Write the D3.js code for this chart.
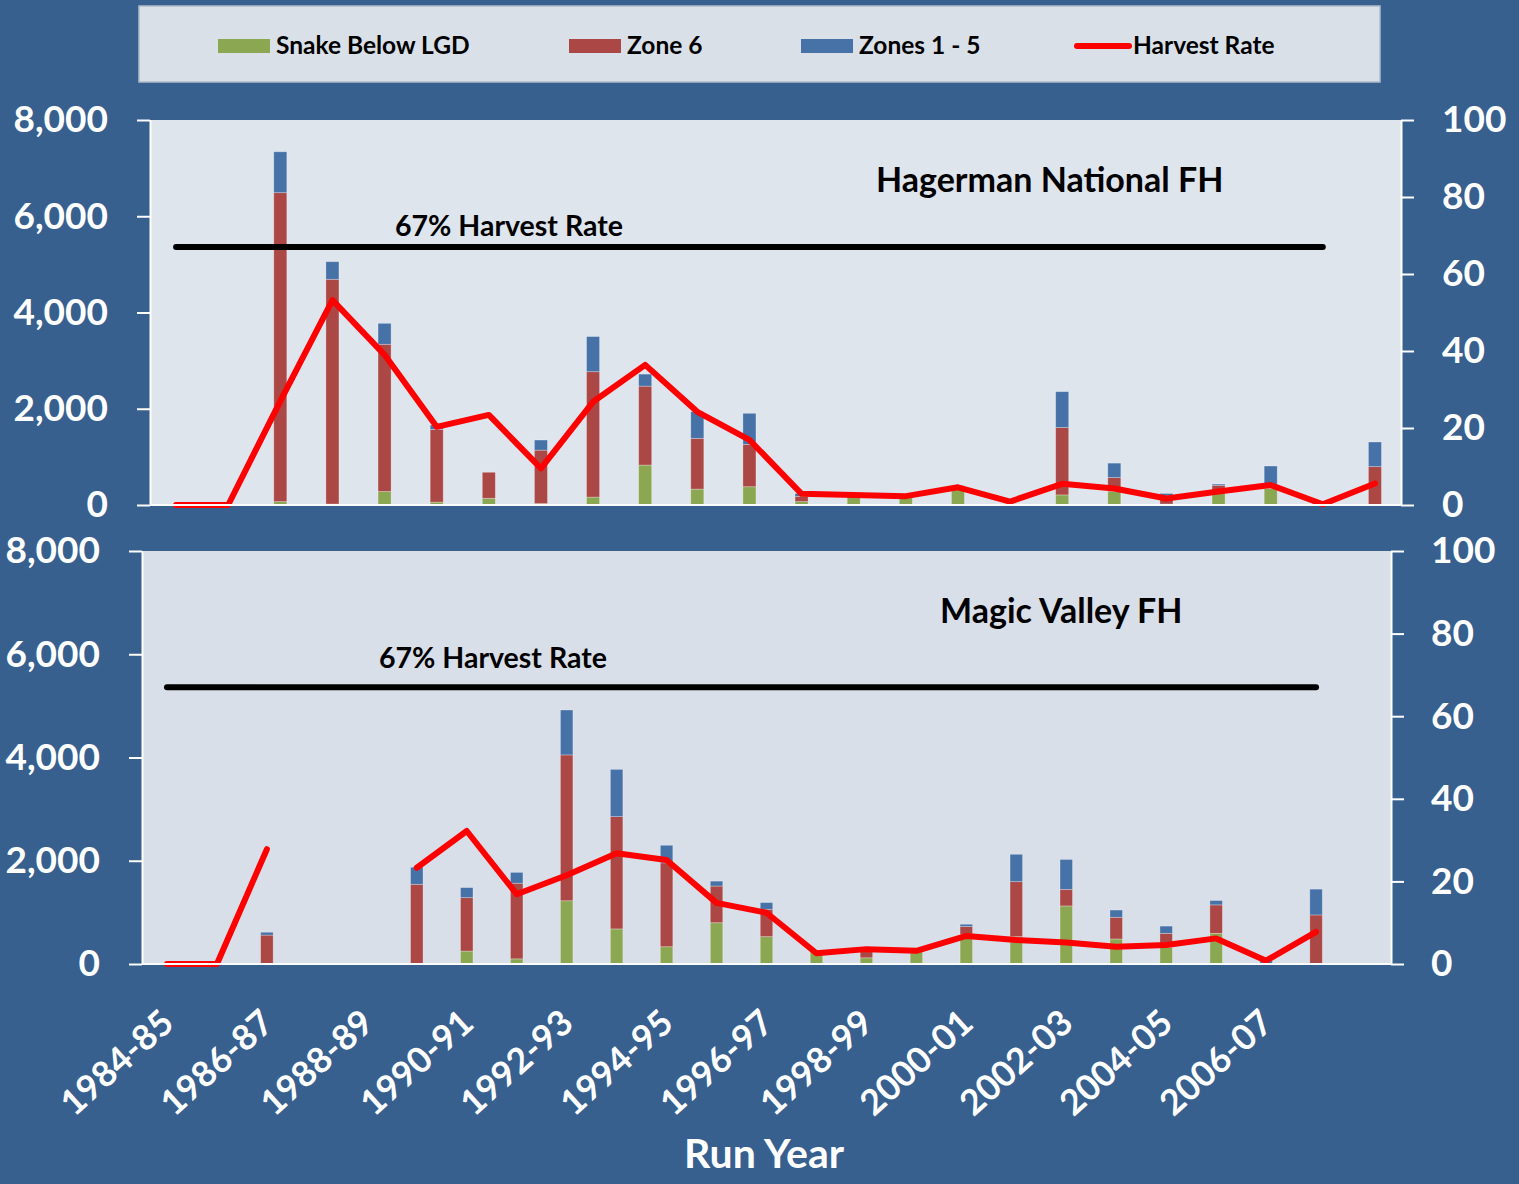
<!DOCTYPE html>
<html>
<head>
<meta charset="utf-8">
<script src="https://cdn.jsdelivr.net/npm/d3@7"></script>
<style>
  html, body { margin: 0; padding: 0; background: #37608F; }
  text { font-family: Lato, "Open Sans", sans-serif; font-weight: bold; }
</style>
</head>
<body>
<script>
// ---------------- DATA ----------------
const runYears = ["1984-85","1985-86","1986-87","1987-88","1988-89","1989-90","1990-91","1991-92",
  "1992-93","1993-94","1994-95","1995-96","1996-97","1997-98","1998-99","1999-00","2000-01",
  "2001-02","2002-03","2003-04","2004-05","2005-06","2006-07","2007-08","2008-09"];
const xTickLabels = ["1984-85","1986-87","1988-89","1990-91","1992-93","1994-95","1996-97",
  "1998-99","2000-01","2002-03","2004-05","2006-07"];
const seriesNames = ["Snake Below LGD","Zone 6","Zones 1 - 5","Harvest Rate"];
const leftTicks = [0, 2000, 4000, 6000, 8000];
const rightTicks = [0, 20, 40, 60, 80, 100];
const targetRate = 67;

// Hagerman National FH (1984-85 .. 2007-08)
const hagSnake   = [0,0,70,20,280,60,140,30,165,830,330,380,70,190,170,370,30,210,280,20,310,345,0,0];
const hagZone6   = [0,0,6420,4670,3060,1510,540,1110,2605,1640,1055,880,110,0,0,0,0,1400,290,170,100,90,0,797];
const hagZones15 = [0,0,850,366,435,90,0,210,730,250,555,645,60,0,0,30,0,745,300,50,25,375,0,512];
const hagHarvest = [0,0,27,53.2,39,20.3,23.4,9.5,26.8,36.4,24.2,16.9,2.9,2.6,2.3,4.6,0.9,5.5,4.3,1.7,3.5,5.2,0.2,5.6];

// Magic Valley FH (1984-85 .. 2008-09)
const mvSnake   = [0,0,0,null,null,0,250,100,1225,680,335,800,530,240,120,250,575,530,1125,485,320,595,0,0,null];
const mvZone6   = [0,0,560,null,null,1544,1035,1465,2825,2175,1625,710,530,0,130,0,150,1065,320,420,274,550,0,950,null];
const mvZones15 = [0,0,55,null,null,330,195,210,870,915,340,95,130,0,0,0,45,530,580,140,140,85,60,500,null];
const mvHarvest = [0,0,27.8,null,null,23.3,32.2,16.9,21.5,26.8,25.2,14.8,12.4,2.6,3.6,3.2,6.8,5.8,5.2,4.2,4.6,6.2,0.8,7.8,null];

// ---------------- STYLE ----------------
const colors = { snake: "#8CA751", zone6: "#AB4745", zones15: "#4672A8", harvest: "#FF0000" };

const W = 1519, H = 1184;
const svg = d3.select("body").append("svg").attr("width", W).attr("height", H);
svg.append("rect").attr("width", W).attr("height", H).attr("fill", "#37608F");

// ---------------- LEGEND ----------------
const lg = svg.append("g");
lg.append("rect").attr("x", 139).attr("y", 6).attr("width", 1241).attr("height", 76)
  .attr("fill", "#D9E0E8").attr("stroke", "#AEBBCC").attr("stroke-width", 1.5);
const legendX = [218, 569, 801, 1075];
const legendKeys = ["snake", "zone6", "zones15", "harvest"];
legendKeys.forEach((k, i) => {
  if (k === "harvest") {
    lg.append("line").attr("x1", legendX[i] + 2).attr("x2", legendX[i] + 54)
      .attr("y1", 46).attr("y2", 46).attr("stroke", colors.harvest)
      .attr("stroke-width", 6).attr("stroke-linecap", "round");
  } else {
    lg.append("rect").attr("x", legendX[i]).attr("y", 39).attr("width", 52).attr("height", 14)
      .attr("fill", colors[k]);
  }
  lg.append("text").attr("x", legendX[i] + 58).attr("y", 54)
    .attr("font-size", 24.5).attr("fill", "#000").text(seriesNames[i]);
});

// ---------------- PANELS ----------------
const panels = [
  { years: runYears.slice(0, 24), snake: hagSnake, zone6: hagZone6, zones15: hagZones15, harvest: hagHarvest,
    targetFrom: "1984-85", targetTo: "2006-07", title: "Hagerman National FH",
    x0: 150, x1: 1401, y0: 120, y1: 505, bg: "#DEE5ED",
    titleX: 876, titleY: 192, targetLabelX: 395, targetLabelY: 236, showX: false },
  { years: runYears, snake: mvSnake, zone6: mvZone6, zones15: mvZones15, harvest: mvHarvest,
    targetFrom: "1984-85", targetTo: "2007-08", title: "Magic Valley FH",
    x0: 142, x1: 1391, y0: 551, y1: 964, bg: "#D8DFE8",
    titleX: 940, titleY: 623, targetLabelX: 379, targetLabelY: 668, showX: true }
];

panels.forEach(p => {
  const g = svg.append("g");
  const x = d3.scaleBand().domain(p.years).range([p.x0, p.x1])
    .paddingInner(0.75).paddingOuter(0.375);
  const y = d3.scaleLinear().domain([0, 8000]).range([p.y1, p.y0]);
  const yR = d3.scaleLinear().domain([0, 100]).range([p.y1, p.y0]);
  const cx = d => x(d) + x.bandwidth() / 2;

  g.append("rect").attr("x", p.x0).attr("y", p.y0).attr("width", p.x1 - p.x0).attr("height", p.y1 - p.y0)
    .attr("fill", p.bg);

  const rows = p.years.map((yr, i) => ({
    year: yr,
    snake: p.snake[i] || 0, zone6: p.zone6[i] || 0, zones15: p.zones15[i] || 0,
    harvest: p.harvest[i]
  }));
  const stack = d3.stack().keys(["snake", "zone6", "zones15"])(rows);

  g.selectAll("g.layer").data(stack).join("g").attr("class", "layer")
    .attr("fill", d => colors[d.key])
    .selectAll("rect").data(d => d.filter(s => s[1] - s[0] > 0)).join("rect")
    .attr("x", d => x(d.data.year))
    .attr("width", x.bandwidth())
    .attr("y", d => y(d[1]))
    .attr("height", d => y(d[0]) - y(d[1]))
    .attr("stroke", "rgba(255,255,255,0.35)").attr("stroke-width", 0.8);

  // 67% harvest rate reference line
  const tIdx0 = p.years.indexOf(p.targetFrom), tIdx1 = p.years.indexOf(p.targetTo);
  const targetPts = p.years.slice(tIdx0, tIdx1 + 1).map(yr => [cx(yr), yR(targetRate)]);
  g.append("path").attr("d", d3.line()(targetPts)).attr("fill", "none")
    .attr("stroke", "#000").attr("stroke-width", 6).attr("stroke-linecap", "round");

  // harvest rate
  const line = d3.line().defined(d => d.harvest !== null && d.harvest !== undefined)
    .x(d => cx(d.year)).y(d => yR(d.harvest));
  g.append("path").attr("d", line(rows)).attr("fill", "none")
    .attr("stroke", colors.harvest).attr("stroke-width", 6)
    .attr("stroke-linejoin", "round").attr("stroke-linecap", "round");

  // texts
  g.append("text").attr("x", p.titleX).attr("y", p.titleY).attr("font-size", 34)
    .attr("fill", "#000").text(p.title);
  g.append("text").attr("x", p.targetLabelX).attr("y", p.targetLabelY).attr("font-size", 28.5)
    .attr("fill", "#000").text(targetRate + "% Harvest Rate");

  // axes
  const axL = d3.axisLeft(y).tickValues(leftTicks).tickFormat(d3.format(",")).tickSize(13).tickPadding(29).tickSizeOuter(0);
  const axR = d3.axisRight(yR).tickValues(rightTicks).tickFormat(d3.format("d")).tickSize(13)
    .tickPadding(p.showX ? 27 : 28).tickSizeOuter(0);
  const gl = g.append("g").attr("transform", `translate(${p.x0},0)`).call(axL);
  const gr = g.append("g").attr("transform", `translate(${p.x1},0)`).call(axR);
  const gx = g.append("g").attr("transform", `translate(0,${p.y1})`)
    .call(d3.axisBottom(x).tickSize(0).tickSizeOuter(0).tickFormat(""));
  gx.select(".domain").attr("d", `M${p.x0},0H${p.x1}`);
  [gl, gr, gx].forEach(a => {
    a.selectAll("path, line").attr("stroke", "#FFFFFF").attr("stroke-width", 2);
    a.selectAll("text").attr("fill", "#FFFFFF").attr("font-size", 37)
      .attr("font-family", "Lato, 'Open Sans', sans-serif").attr("font-weight", "bold");
  });

  if (p.showX) {
    const lbl = g.append("g");
    lbl.selectAll("text").data(xTickLabels).join("text")
      .attr("transform", d => `translate(${cx(d) + 9},1026) rotate(-42)`)
      .attr("text-anchor", "end").attr("font-size", 35.5).attr("fill", "#FFFFFF")
      .text(d => d);
  }
});

svg.append("text").attr("x", 764).attr("y", 1168).attr("text-anchor", "middle")
  .attr("font-size", 41).attr("fill", "#FFFFFF").text("Run Year");
</script>
</body>
</html>
